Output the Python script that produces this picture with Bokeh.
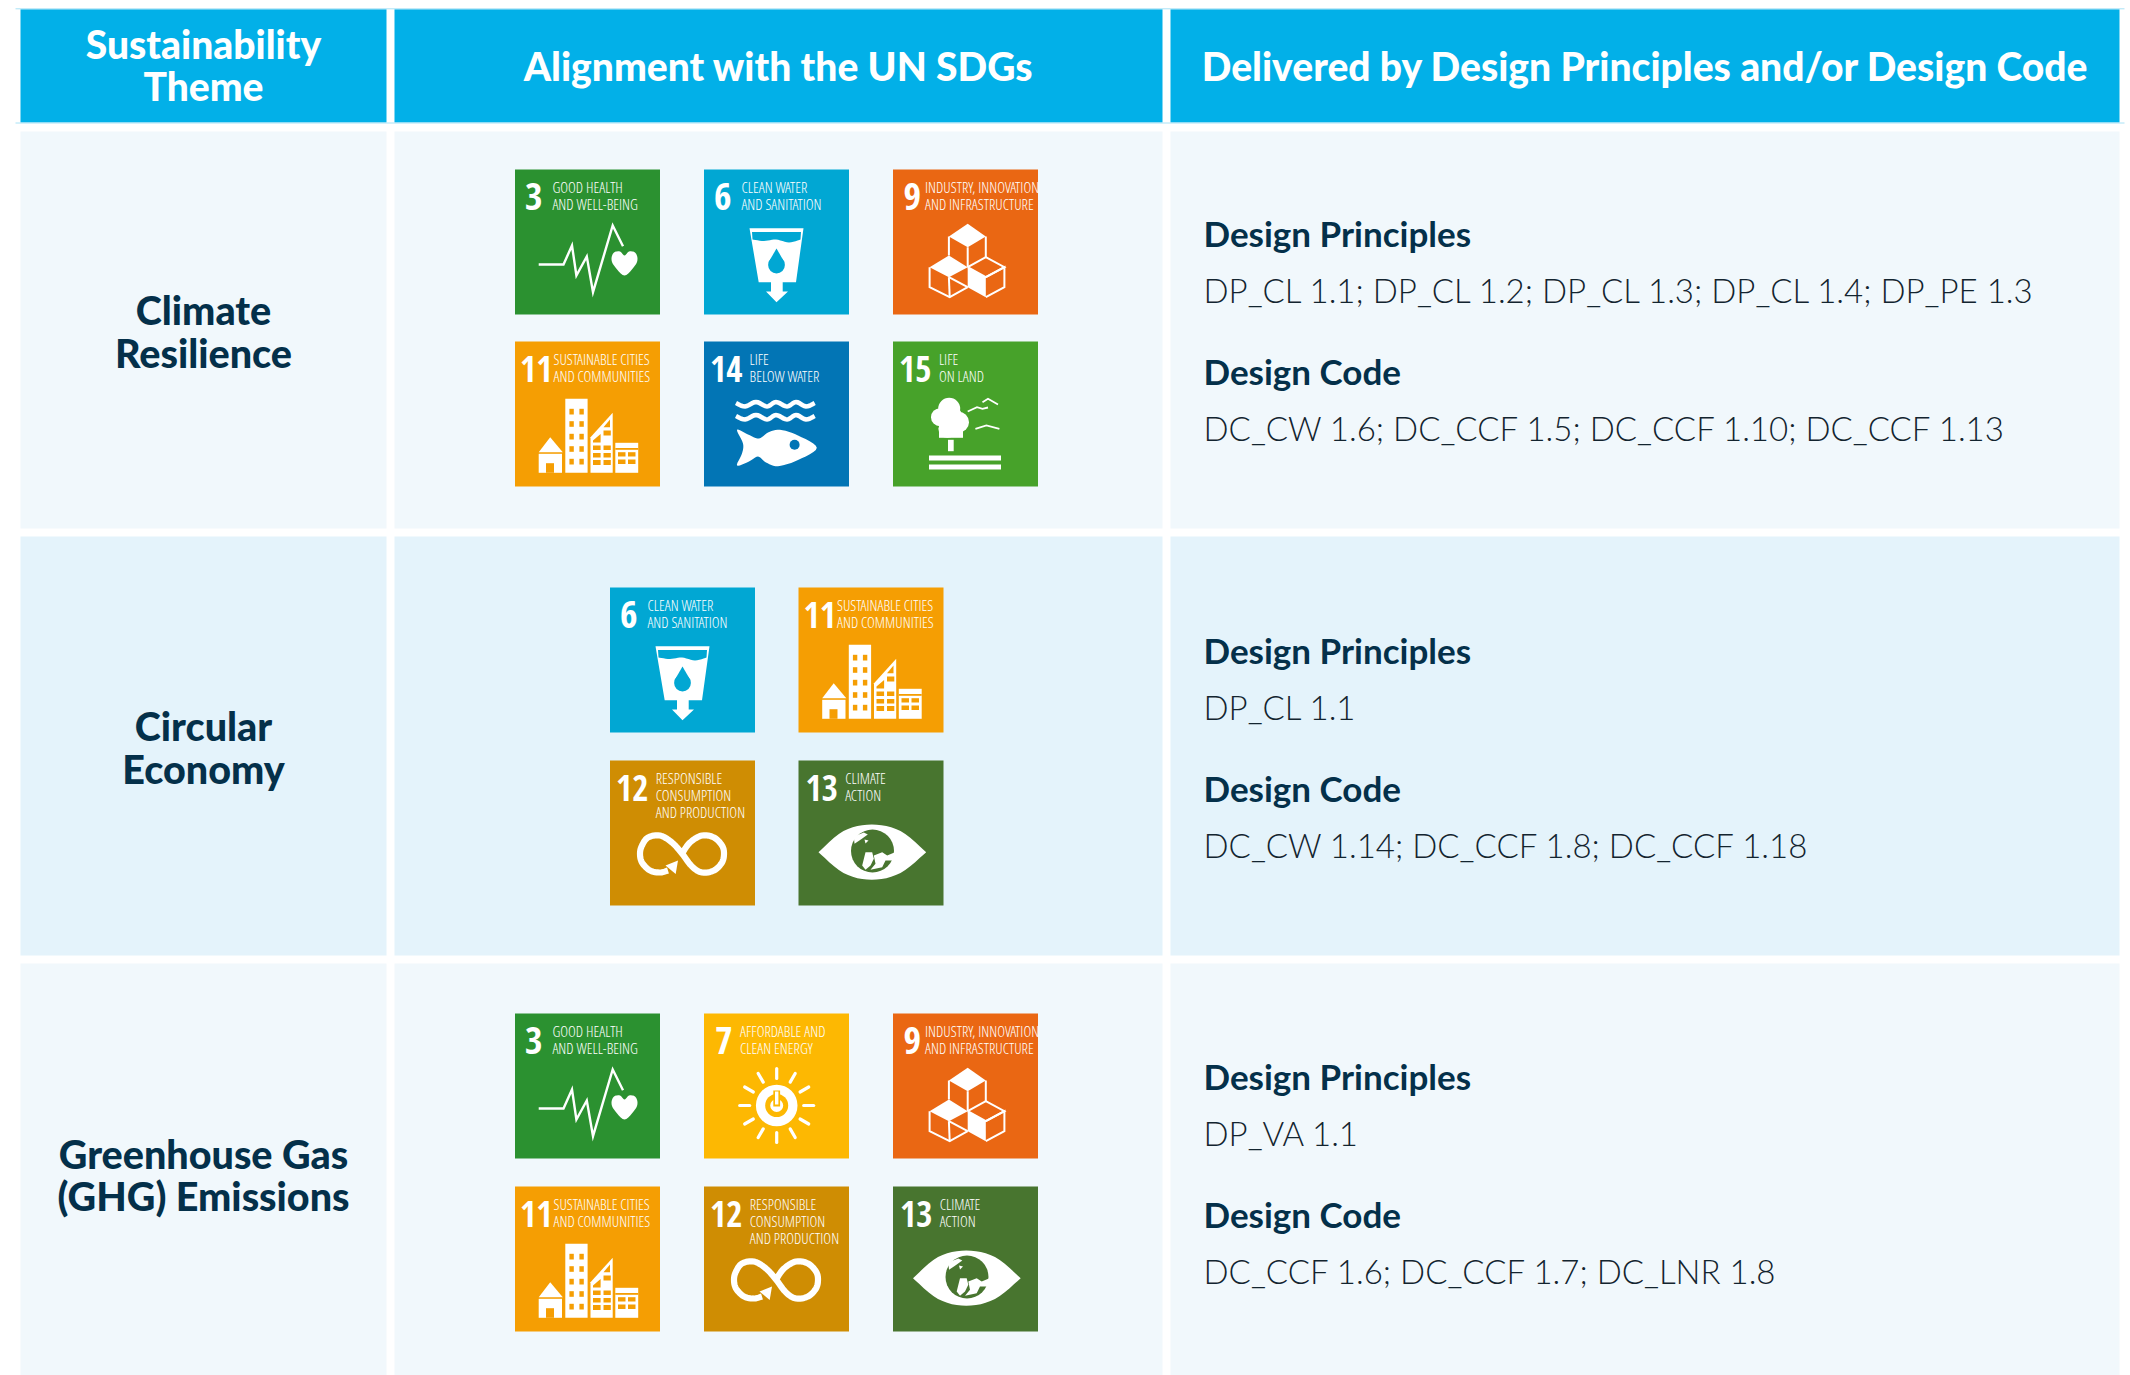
from bokeh.plotting import figure
from bokeh.embed import file_html
from bokeh.resources import INLINE
from bokeh.core.properties import value
import math

# ---- content ----
HEADERS = ["Sustainability\nTheme", "Alignment with the UN SDGs", "Delivered by Design Principles and/or Design Code"]
THEMES = [["Climate", "Resilience"], ["Circular", "Economy"], ["Greenhouse Gas", "(GHG) Emissions"]]
ROW_SDGS = [[3, 6, 9, 11, 14, 15], [6, 11, 12, 13], [3, 7, 9, 11, 12, 13]]
PRINCIPLES = ["DP_CL 1.1; DP_CL 1.2; DP_CL 1.3; DP_CL 1.4; DP_PE 1.3", "DP_CL 1.1", "DP_VA 1.1"]
CODES = ["DC_CW 1.6; DC_CCF 1.5; DC_CCF 1.10; DC_CCF 1.13", "DC_CW 1.14; DC_CCF 1.8; DC_CCF 1.18", "DC_CCF 1.6; DC_CCF 1.7; DC_LNR 1.8"]

SDG_COLORS = {3: "#2B9130", 6: "#01A7D3", 7: "#FDB802", 9: "#EA6713", 11: "#F59E03",
              12: "#CF8D03", 13: "#48752F", 14: "#0275B5", 15: "#47A22A"}
SDG_LABELS = {3: ["GOOD HEALTH", "AND WELL-BEING"], 6: ["CLEAN WATER", "AND SANITATION"],
              7: ["AFFORDABLE AND", "CLEAN ENERGY"], 9: ["INDUSTRY, INNOVATION", "AND INFRASTRUCTURE"],
              11: ["SUSTAINABLE CITIES", "AND COMMUNITIES"], 12: ["RESPONSIBLE", "CONSUMPTION", "AND PRODUCTION"],
              13: ["CLIMATE", "ACTION"], 14: ["LIFE", "BELOW WATER"], 15: ["LIFE", "ON LAND"]}
NUM_X = {3: 10, 6: 10, 7: 11, 9: 10.5, 11: 5, 12: 6, 13: 7, 14: 6, 15: 6}
LAB_X = {3: 37.4, 6: 37.4, 7: 36, 9: 32, 11: 38.5, 12: 45.7, 13: 46.7, 14: 45.5, 15: 45.9}

# ---- layout (page pixels) ----
W, H = 2130, 1375
COLS = [(20, 386), (394, 1162), (1170, 2119)]
HEAD_Y = (8.7, 122)
ROWS = [(131, 528), (536, 955), (963, 1375)]
ROW_FILL = ["#F1F8FC", "#E4F3FB", "#F1F8FC"]
HEAD_FILL = "#02B0E8"
DARK = "#04304A"
INK = "#13242F"
ICON = 145
ICON_POS = [
    [(514.5, 169), (703.5, 169), (892.5, 169), (514.5, 341), (703.5, 341), (892.5, 341)],
    [(609.5, 587), (798, 587), (609.5, 760), (798, 760)],
    [(514.5, 1013), (703.5, 1013), (892.5, 1013), (514.5, 1186), (703.5, 1186), (892.5, 1186)],
]
THEME_BASE = [(323.7, 366), (739.7, 782), (1167, 1209.5)]
BODY_BASE = [(245, 301.5, 383, 439.5), (661.6, 718.1, 799.6, 856.1), (1088, 1144.5, 1226, 1282.5)]

HEAD_FONT = "Lato Heavy"
THEME_FONT = "Lato Black"
SUB_FONT = "Lato"
BODY_FONT = "Lato Light"
NUM_FONT = "Open Sans Condensed"
LABEL_FONT = "Open Sans Condensed Light"

p = figure(width=W, height=H, x_range=(0, W), y_range=(H, 0), output_backend="svg",
           toolbar_location=None, min_border=0, outline_line_color=None,
           background_fill_color="white", border_fill_color="white")
p.axis.visible = False
p.grid.visible = False


def rect(x0, y0, x1, y1, c):
    p.quad(left=[x0], right=[x1], top=[y0], bottom=[y1], fill_color=c, line_color=None)


def txt(x, y, s, size, color, font, bold=False, align="left"):
    # the renderer sets "alphabetic" text about 0.36 em below the requested line
    p.text(x=[x], y=[y - 0.36 * size], text=[s], text_font=value(font), text_font_size=f"{size}px", text_color=color,
           text_font_style="bold" if bold else "normal", text_align=align, text_baseline="alphabetic")


def smooth(pts, closed=False, n=6):
    out = []
    m = len(pts)
    rng = range(m) if closed else range(m - 1)
    for i in rng:
        if closed:
            a, b, c, d = pts[(i - 1) % m], pts[i], pts[(i + 1) % m], pts[(i + 2) % m]
        else:
            a, b, c, d = pts[max(i - 1, 0)], pts[i], pts[i + 1], pts[min(i + 2, m - 1)]
        for k in range(n):
            t = k / n
            f = lambda q: 0.5 * (2 * b[q] + (c[q] - a[q]) * t + (2 * a[q] - 5 * b[q] + 4 * c[q] - d[q]) * t * t
                                 + (3 * b[q] - a[q] - 3 * c[q] + d[q]) * t ** 3)
            out.append((f(0), f(1)))
    if not closed:
        out.append(pts[-1])
    return out


class Ic:
    def __init__(self, x, y, c):
        self.x, self.y, self.c = x, y, c

    def poly(self, pts, c="white"):
        p.patch([self.x + a for a, b in pts], [self.y + b for a, b in pts], fill_color=c, line_color=None)

    def line(self, pts, w=2.0, c="white", cap="butt", join="miter"):
        p.line([self.x + a for a, b in pts], [self.y + b for a, b in pts], line_color=c, line_width=w,
               line_cap=cap, line_join=join)

    def box(self, x0, y0, x1, y1, c="white"):
        rect(self.x + x0, self.y + y0, self.x + x1, self.y + y1, c)

    def disc(self, cx, cy, r, c="white"):
        p.circle(x=[self.x + cx], y=[self.y + cy], radius=r, fill_color=c, line_color=None)


def draw3(i):
    i.line([(23.7, 95), (48.5, 95), (57, 76), (61.4, 106), (71.8, 87), (78, 122.7), (97.7, 56), (108, 76.7)], 2.4)
    i.poly(smooth([(109.5, 86), (114, 82), (120, 83), (122.5, 89), (120, 96), (109.5, 106), (99, 96), (96.5, 89), (99, 83), (105, 82)], closed=True))


def draw6(i):
    i.poly([(45.5, 58.7), (99.5, 58.7), (92, 112.7), (78.7, 112.7), (78.7, 122), (84, 122), (72.5, 132.7),
            (62, 122), (67, 122), (67, 112.7), (54.7, 112.7)])
    i.poly(smooth([(48.5, 70), (60, 71.5), (72, 70), (85, 73), (96.5, 70)]) + [(97, 62.5), (48, 62.5)], i.c)
    i.disc(72.5, 95.5, 8.4, i.c)
    i.poly([(72.5, 79), (80.3, 92.5), (64.7, 92.5)], i.c)


def draw7(i):
    cx, cy = 72.7, 92
    for k in range(12):
        a = math.radians(30 * k)
        i.line([(cx + 27 * math.cos(a), cy + 27 * math.sin(a)), (cx + 37 * math.cos(a), cy + 37 * math.sin(a))], 3.2, cap="round")
    i.disc(cx, cy, 20.8)
    i.disc(cx, cy, 11.5, i.c)
    i.disc(cx, cy, 6.5)
    i.box(cx - 3.4, cy - 15, cx + 3.4, cy + 1, i.c)
    i.box(cx - 1.7, cy - 14, cx + 1.7, cy - 1)


def draw9(i):
    L = 2.0
    i.line([(55.9, 67), (55.9, 86)], L)
    i.line([(92.8, 67), (92.8, 87.7)], L)
    i.line([(74.7, 77.7), (74.7, 97.7)], L)
    i.poly([(74.7, 54.3), (92.8, 67), (74.7, 77.7), (55.9, 67)])
    i.poly([(74.7, 97.7), (92.8, 107.7), (92.8, 127.7), (74.7, 117.7)])
    i.line([(74.7, 97.7), (92.8, 87.7), (111.4, 97.7), (92.8, 107.7), (74.7, 97.7)], L)
    i.line([(92.8, 107.7), (111.4, 97.7), (111.4, 117.7), (92.8, 127.7)], L)
    i.poly([(36.6, 97.7), (55.9, 86), (74.7, 97.7), (55.9, 107.7)])
    i.line([(36.6, 97.7), (36.6, 117.7), (56.7, 127.7), (74.7, 117.7)], L)
    i.line([(55.9, 107.7), (56.7, 127.7)], L)
    i.line([(55.9, 107.7), (74.7, 117.7)], L)


def draw11(i):
    c = i.c
    i.poly([(35.2, 95.7), (47.8, 110.7), (23.7, 110.7)])
    i.box(23.7, 112.3, 47, 131.3)
    i.box(31, 121.7, 39, 131.3, c)
    i.box(50.3, 57.3, 72.6, 131.3)
    for y0, y1 in [(67.3, 73), (79.7, 85.3), (92.3, 98), (104.7, 110.3), (117.3, 123)]:
        i.box(54.4, y0, 58.8, y1, c)
        i.box(64.4, y0, 68.8, y1, c)
    i.poly([(75.5, 131.3), (75.5, 95.7), (97.7, 71.3), (97.7, 131.3)])
    for y0, y1 in [(104, 108.5), (111.5, 116), (118.5, 123.5)]:
        i.box(78, y0, 85.6, y1, c)
        i.box(88.5, y0, 95.8, y1, c)
    i.box(88.5, 89, 95.8, 94, c)
    i.poly([(88.5, 85.7), (95, 78), (95, 85.7)], c)
    i.poly([(78, 101), (85.6, 101), (85.6, 92.5), (78, 99)], c)
    i.box(100.3, 101.3, 123.2, 131.3)
    i.box(100.3, 106.5, 123.2, 108.3, c)
    for y0, y1 in [(110.7, 115), (118, 122.5)]:
        i.box(103, y0, 110.5, y1, c)
        i.box(113, y0, 120.5, y1, c)


def draw12(i):
    path = [(72, 93), (80, 82), (92, 75), (104, 77), (112, 85), (114, 93), (112, 102), (104, 110), (92, 112), (82, 106),
            (72, 93), (62, 82), (50, 75), (38, 77), (32, 85), (30, 93), (32, 102), (40, 110), (50, 112), (58, 110)]
    i.line(smooth(path), 6.2, join="round")
    i.poly([(68, 100), (65.7, 113.5), (55.5, 105)])


def draw13(i):
    i.poly(smooth([(20, 91.7), (45, 70.5), (73.3, 64), (102, 70.5), (127.7, 91.7)]) + smooth([(127.7, 91.7), (102, 112.5), (73.3, 119.3), (45, 112.5), (20, 91.7)]))
    i.disc(74, 90.5, 21.5, i.c)
    for pts in [[(55.3, 76), (65.3, 72), (69.3, 74), (62, 79.3), (56, 83.3)],
                [(67, 91.7), (73.7, 91.7), (75.3, 98.3), (72, 105), (67, 109.3), (63.7, 105)],
                [(75.3, 95), (83.7, 91.7), (88.7, 95), (96.5, 91.7), (96, 100), (87, 100), (83.7, 106.7), (72, 109.3), (77, 103.3)],
                [(66, 79), (70, 80), (67, 83)]]:
        i.poly(pts)


def draw14(i):
    for dy in (0, 13):
        i.line(smooth([(32, 61.5 + dy), (41, 65 + dy), (52, 60.5 + dy), (63, 65 + dy), (72, 60.5 + dy), (83, 65 + dy),
                       (92, 60.5 + dy), (102, 65 + dy), (110.7, 61.5 + dy)]), 4.6)
    i.poly(smooth([(33, 88.3), (44, 93), (55, 97), (64, 91), (76, 88.3), (94, 94), (112.8, 106.3), (94, 118.5),
                   (74, 124.7), (62, 121), (54, 115), (45, 120), (33, 124), (38, 112), (39, 102)], closed=True))
    i.disc(90.6, 103.3, 5, i.c)


def draw15(i):
    for cx, cy, r in [(56.2, 67.3, 11), (47, 75.7, 9), (65.5, 80.7, 10.5), (54.4, 87.3, 9), (58, 75, 11)]:
        i.disc(cx, cy, r)
    i.box(46, 86, 70, 96.3)
    i.box(55, 98.3, 60.7, 109.7)
    i.box(36, 114, 108, 119)
    i.box(36, 123, 108, 128)
    i.line([(74.7, 70), (84, 65.7), (89.5, 67.3), (95, 66)], 1.8)
    i.line([(89.5, 60.7), (95, 57.3), (105, 63)], 1.8)
    i.line([(82.4, 87.3), (93.4, 84), (106.4, 87.3)], 1.8)


DRAW = {3: draw3, 6: draw6, 7: draw7, 9: draw9, 11: draw11, 12: draw12, 13: draw13, 14: draw14, 15: draw15}


def icon(n, x, y):
    c = SDG_COLORS[n]
    rect(x, y, x + ICON, y + ICON, c)
    txt(x + NUM_X[n], y + 40.5, str(n), 38 if n < 10 else 35, "white", NUM_FONT)
    lx = x + LAB_X[n]
    for k, s in enumerate(SDG_LABELS[n]):
        txt(lx, y + 22.5 + k * 17.2, s, 15, "#FFFFFF", LABEL_FONT)
    DRAW[n](Ic(x, y, c))


# ---- cells ----
for x0, x1 in COLS:
    rect(x0, HEAD_Y[0], x1, HEAD_Y[1], HEAD_FILL)
    for (y0, y1), f in zip(ROWS, ROW_FILL):
        rect(x0, y0, x1, y1, f)
p.line([15, 2124], [8.3, 8.3], line_color="#A8E2F6", line_width=1)
p.line([15, 2124], [122.5, 122.5], line_color="#A8E2F6", line_width=1)

# ---- header ----
a, b = HEADERS[0].split("\n")
txt(203, 58, a, 39, "white", HEAD_FONT, False, "center")
txt(203, 100, b, 39, "white", HEAD_FONT, False, "center")
txt(778, 80, HEADERS[1], 39, "white", HEAD_FONT, False, "center")
txt(1645, 80, HEADERS[2], 39, "white", HEAD_FONT, False, "center")

# ---- rows ----
for r in range(3):
    for s, y in zip(THEMES[r], THEME_BASE[r]):
        txt(203, y, s, 39.5, DARK, THEME_FONT, False, "center")
    for n, (x, y) in zip(ROW_SDGS[r], ICON_POS[r]):
        icon(n, x, y)
    yy = BODY_BASE[r]
    txt(1203, yy[0], "Design Principles", 35, DARK, SUB_FONT, True)
    txt(1203, yy[1], PRINCIPLES[r], 33, INK, BODY_FONT)
    txt(1203, yy[2], "Design Code", 35, DARK, SUB_FONT, True)
    txt(1203, yy[3], CODES[r], 33, INK, BODY_FONT)

open("out.html", "w").write(file_html(p, INLINE))
